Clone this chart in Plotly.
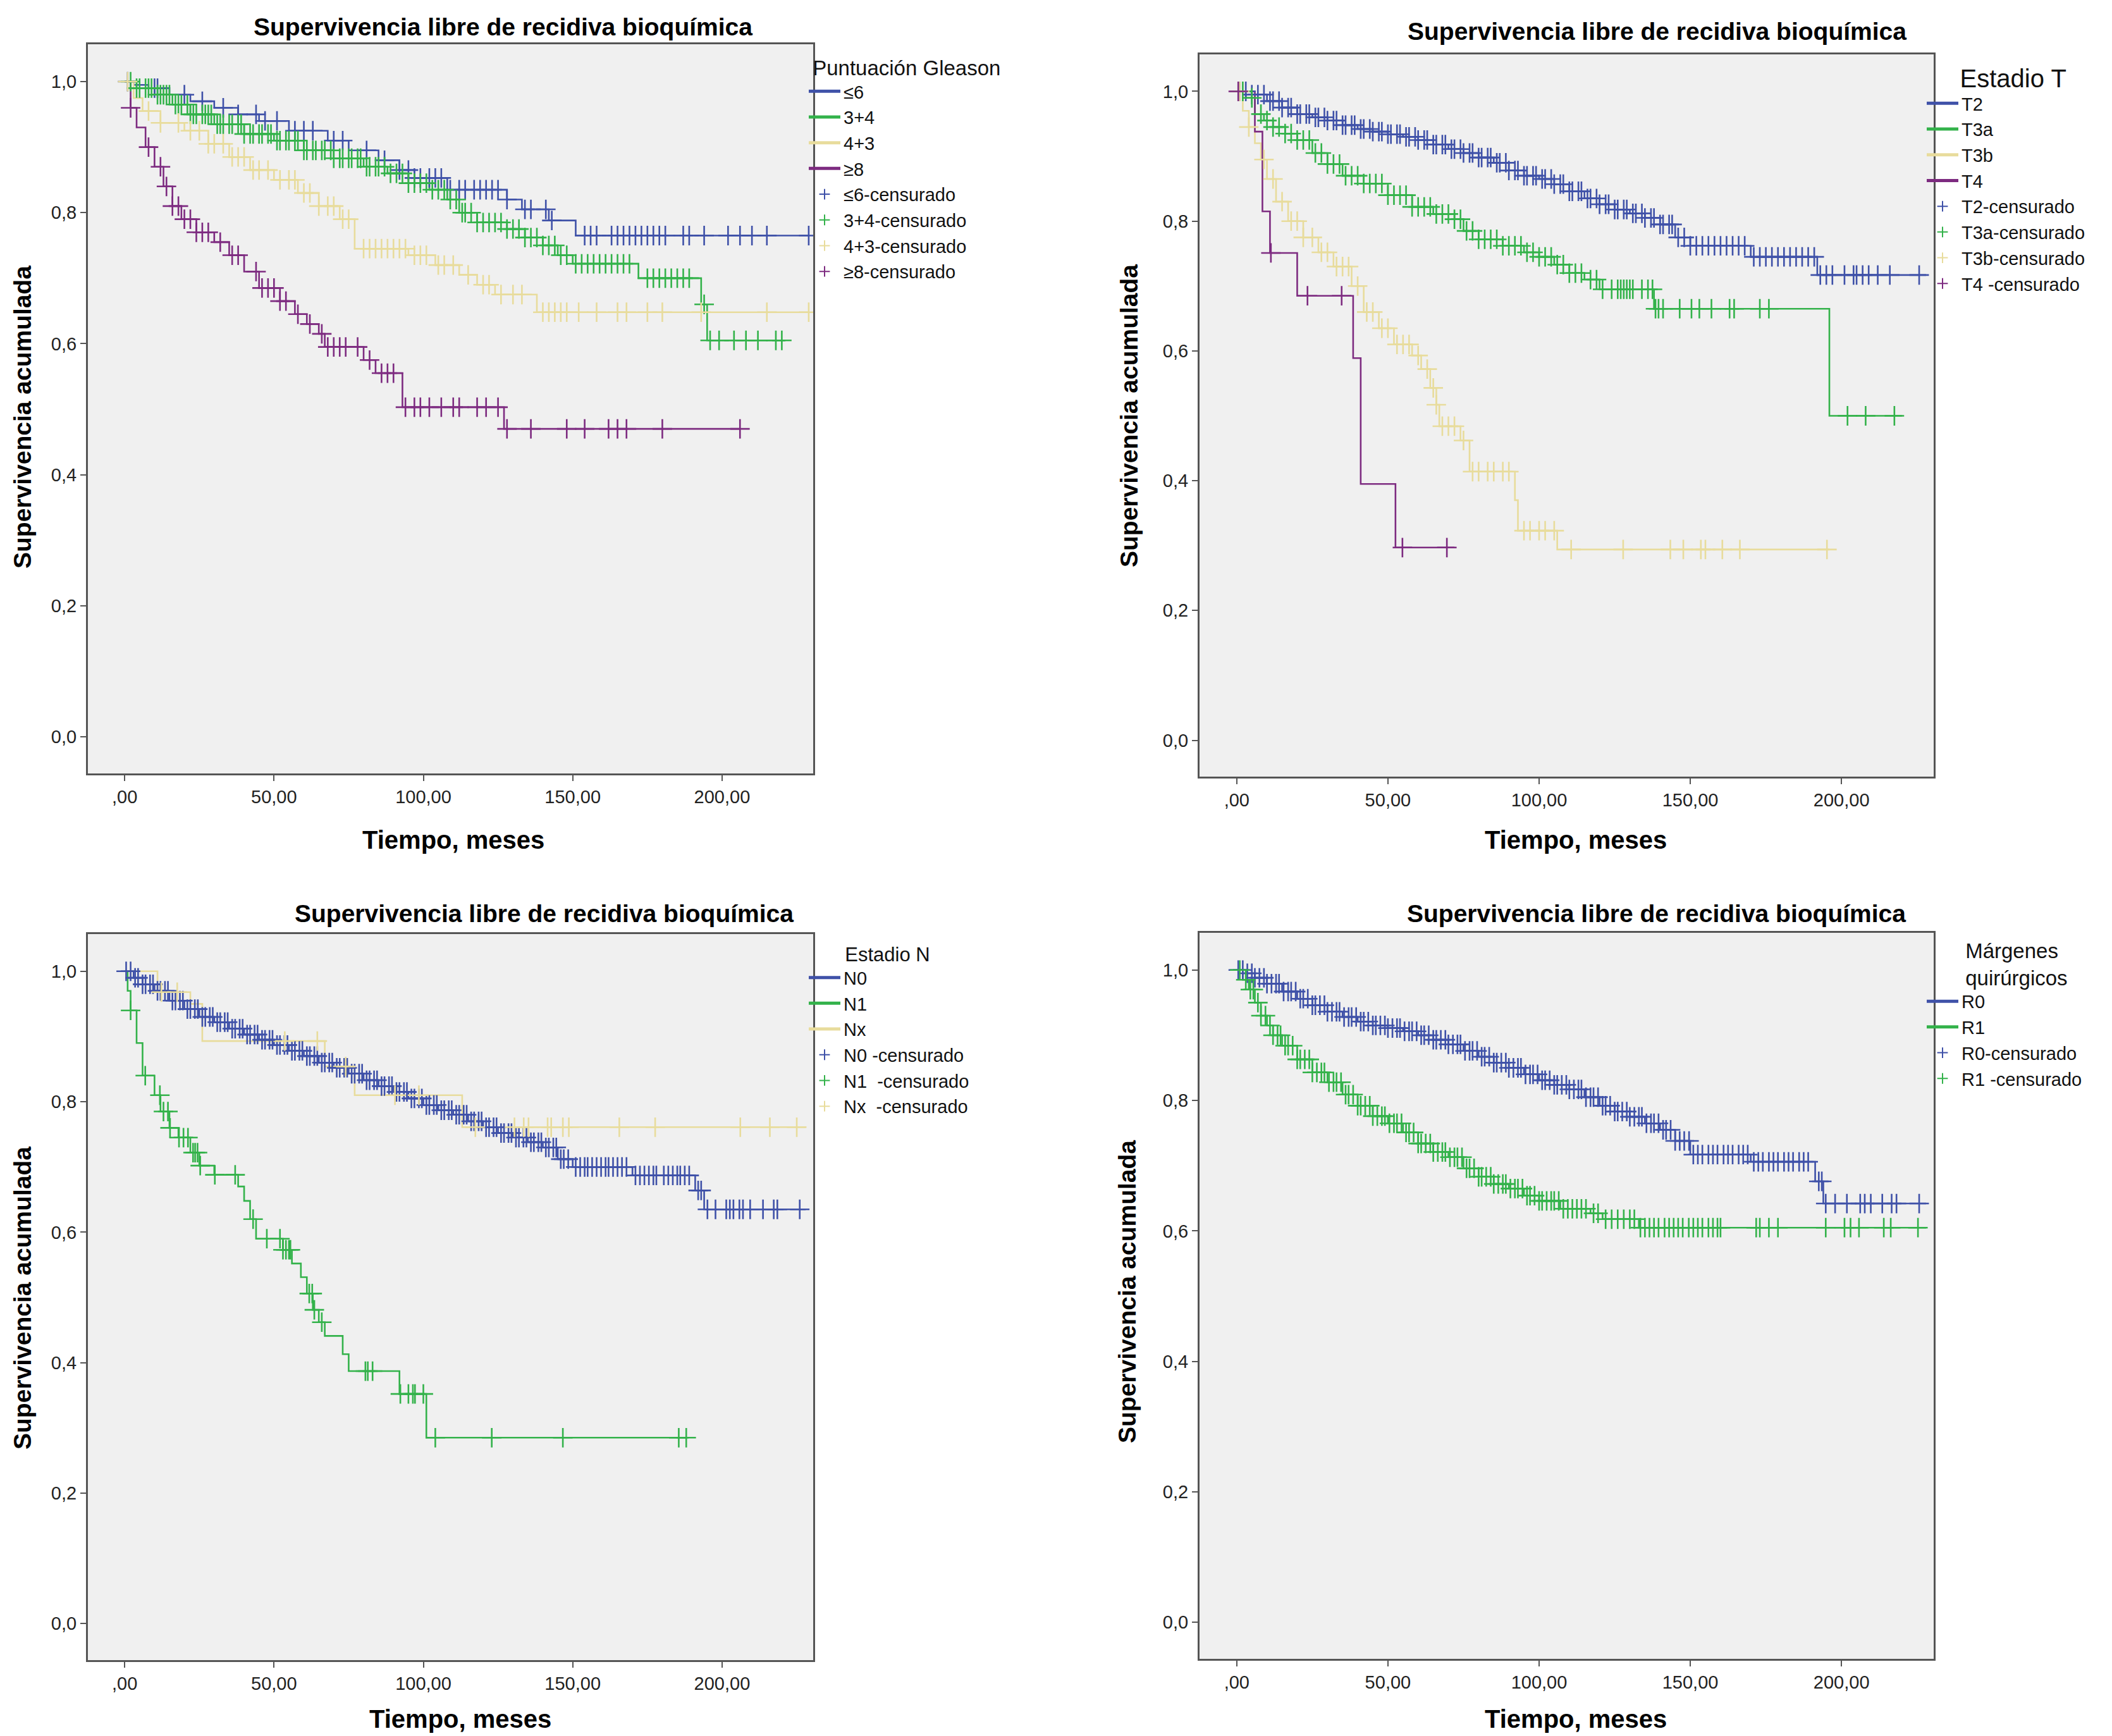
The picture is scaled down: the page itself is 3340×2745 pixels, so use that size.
import plotly.graph_objects as go

W, H = 3340, 2745

# ---------------- Panel A: Puntuación Gleason ----------------
g6_t = [0, 3, 8, 15, 22, 30, 38, 45, 55, 68, 75, 85, 92, 97, 108, 128, 133, 142, 151]
g6_s = [1.0, 0.995, 0.99, 0.98, 0.97, 0.96, 0.95, 0.94, 0.925, 0.91, 0.895, 0.88, 0.865, 0.853, 0.835, 0.82, 0.805, 0.788, 0.765]
g6_end = 229
g6_c = [1, 10, 11, 20, 26, 33, 38, 44, 47, 51, 57, 60, 63, 70, 73, 81, 87, 92, 95, 97, 99, 102, 104, 106, 109, 112,
        114, 117, 119, 121, 123, 125, 128, 134, 136, 141, 143, 154, 156, 158, 163, 165, 167, 169, 171, 173, 175, 177,
        179, 181, 187, 189, 194, 202, 206, 210, 215, 229]

g34_t = [0, 4, 10, 16, 22, 30, 40, 50, 60, 70, 80, 88, 95, 102, 108, 112, 118, 128, 134, 140, 145, 150, 172, 193, 195]
g34_s = [1.0, 0.99, 0.98, 0.965, 0.95, 0.935, 0.92, 0.91, 0.895, 0.883, 0.87, 0.86, 0.845, 0.835, 0.82, 0.8, 0.785,
         0.775, 0.762, 0.75, 0.735, 0.722, 0.70, 0.66, 0.605]
g34_end = 221
g34_c = [2, 4, 5, 7, 8, 9, 11, 12, 13, 14, 15, 17, 18, 19, 21, 22, 23, 24, 26, 27, 28, 29, 31, 32, 33, 35, 36, 38, 39,
         40, 42, 43, 45, 46, 48, 49, 51, 52, 54, 55, 57, 58, 60, 61, 63, 64, 66, 67, 69, 70, 72, 73, 75, 76, 78, 79,
         81, 82, 84, 85, 87, 89, 91, 93, 95, 97, 99, 101, 103, 105, 107, 109, 111, 113, 114, 116, 118, 120, 122, 124,
         126, 128, 130, 132, 134, 136, 138, 140, 142, 144, 146, 148, 151, 153, 155, 157, 159, 161, 163, 165, 167, 169,
         175, 177, 179, 181, 183, 185, 187, 189, 194, 196, 199, 204, 208, 212, 218, 220]

g43_t = [0, 3, 6, 12, 20, 28, 35, 42, 50, 58, 65, 72, 77, 95, 104, 112, 118, 124, 138]
g43_s = [1.0, 0.975, 0.955, 0.937, 0.925, 0.905, 0.885, 0.865, 0.85, 0.83, 0.81, 0.79, 0.745, 0.735, 0.72, 0.705,
         0.69, 0.675, 0.648]
g43_end = 229
g43_c = [1, 8, 12, 18, 22, 25, 28, 30, 33, 36, 38, 40, 43, 45, 48, 52, 55, 57, 60, 62, 65, 68, 70, 73, 75, 80, 82, 84,
         86, 88, 90, 92, 94, 97, 99, 101, 105, 107, 110, 115, 120, 122, 126, 130, 133, 140, 142, 144, 146, 148, 152,
         158, 165, 168, 175, 180, 193, 215, 229]

g8_t = [0, 2, 4, 7, 10, 13, 16, 19, 24, 30, 35, 40, 45, 52, 57, 61, 65, 67, 80, 84, 93, 127]
g8_s = [1.0, 0.96, 0.93, 0.90, 0.87, 0.84, 0.81, 0.79, 0.77, 0.755, 0.735, 0.71, 0.685, 0.665, 0.645, 0.63, 0.615,
        0.595, 0.575, 0.555, 0.503, 0.47]
g8_end = 206
g8_c = [2, 8, 12, 14, 16, 18, 20, 22, 24, 26, 28, 32, 36, 38, 44, 46, 48, 50, 52, 54, 58, 62, 66, 68, 70, 72, 74, 78,
        82, 86, 88, 90, 94, 97, 99, 102, 106, 110, 112, 118, 121, 125, 128, 136, 148, 154, 162, 165, 168, 180, 206]

# ---------------- Panel B: Estadio T ----------------
t2_t = [0, 5, 10, 15, 20, 25, 30, 35, 40, 45, 50, 55, 60, 65, 70, 75, 80, 85, 90, 95, 100, 105, 110, 115, 120, 125,
        130, 135, 140, 145, 150, 170, 192]
t2_s = [1.0, 0.995, 0.985, 0.975, 0.965, 0.96, 0.955, 0.948, 0.942, 0.938, 0.934, 0.93, 0.925, 0.918, 0.911, 0.905,
        0.898, 0.89, 0.878, 0.87, 0.865, 0.857, 0.846, 0.835, 0.826, 0.818, 0.812, 0.805, 0.795, 0.775, 0.762, 0.745,
        0.717]
t2_end = 228
t2_c = [1, 3, 5, 7, 9, 11, 12, 14, 15, 17, 18, 20, 21, 23, 24, 26, 27, 29, 30, 32, 33, 35, 36, 38, 39, 41, 42, 44, 45,
        47, 48, 50, 51, 53, 54, 56, 57, 59, 60, 62, 63, 65, 66, 68, 69, 71, 72, 74, 75, 77, 78, 80, 81, 83, 84, 86, 87,
        89, 90, 92, 93, 95, 96, 98, 99, 101, 102, 104, 105, 107, 108, 110, 111, 113, 114, 116, 117, 119, 120, 122, 123,
        125, 126, 128, 129, 131, 132, 134, 135, 137, 138, 140, 141, 143, 144, 146, 148, 150, 152, 154, 156, 158, 160,
        162, 164, 166, 168, 171, 173, 175, 177, 179, 181, 183, 185, 187, 189, 191, 193, 195, 197, 201, 204, 205, 207,
        209, 212, 216, 225.7]

t3a_t = [0, 3, 6, 9, 12, 16, 20, 25, 30, 35, 42, 50, 58, 65, 72, 75, 80, 88, 95, 100, 105, 110, 115, 120, 138, 196]
t3a_s = [1.0, 0.99, 0.965, 0.955, 0.945, 0.935, 0.925, 0.905, 0.888, 0.87, 0.858, 0.84, 0.822, 0.811, 0.803, 0.785,
         0.772, 0.762, 0.752, 0.745, 0.733, 0.72, 0.71, 0.695, 0.665, 0.50]
t3a_end = 220
t3a_c = [2, 5, 8, 10, 12, 14, 16, 18, 20, 22, 24, 26, 28, 30, 32, 34, 36, 38, 40, 42, 44, 46, 48, 50, 52, 54, 56, 58,
         60, 62, 64, 66, 68, 70, 72, 74, 76, 78, 80, 82, 84, 86, 88, 90, 92, 94, 96, 98, 100, 102, 104, 106, 108, 110,
         112, 114, 117, 119, 121, 124, 126, 127, 128, 129, 130, 131, 134, 136, 137.5, 138.5, 139.5, 141, 146.5, 150.4,
         153, 157, 163, 164.5, 173, 176, 202, 208, 217.5]

t3b_t = [0, 2, 4, 6, 8, 10, 13, 17, 22, 27, 32, 38, 42, 47, 52, 58, 61, 64, 66, 67, 74, 77, 92, 93, 106]
t3b_s = [1.0, 0.97, 0.945, 0.92, 0.895, 0.865, 0.83, 0.80, 0.775, 0.752, 0.73, 0.70, 0.66, 0.635, 0.61, 0.593, 0.572,
         0.543, 0.517, 0.484, 0.462, 0.414, 0.37, 0.323, 0.294]
t3b_end = 196
t3b_c = [1, 4, 9, 12, 15, 18, 20, 22, 25, 28, 30, 33, 35, 37, 40, 43, 45, 48, 50, 53, 55, 57, 60, 63, 65, 66, 68, 70,
         72, 75, 78, 80, 83, 85, 88, 90, 95, 97, 100, 102, 105, 110.6, 127.8, 143.4, 147.7, 153.5, 155, 160.6, 166.4,
         195.2]

t4_t = [0, 6, 8.5, 11, 20, 38.5, 41, 52.5]
t4_s = [1.0, 0.938, 0.815, 0.751, 0.685, 0.589, 0.395, 0.297]
t4_end = 72
t4_c = [0.5, 11.3, 23.4, 34.7, 54.8, 69.5]

# ---------------- Panel C: Estadio N ----------------
n0_t = [0, 3, 6, 10, 15, 20, 25, 30, 35, 40, 45, 50, 55, 60, 65, 70, 75, 80, 85, 90, 95, 100, 105, 110, 115, 120,
        125, 130, 135, 140, 145, 150, 170, 191, 194]
n0_s = [1.0, 0.99, 0.98, 0.97, 0.955, 0.942, 0.93, 0.922, 0.912, 0.903, 0.895, 0.887, 0.878, 0.87, 0.86, 0.852,
        0.843, 0.833, 0.824, 0.815, 0.805, 0.795, 0.787, 0.78, 0.77, 0.761, 0.752, 0.745, 0.738, 0.73, 0.712, 0.70,
        0.687, 0.664, 0.635]
n0_end = 228
n0_c = [0.5, 2, 3.5, 4.5, 6, 7, 8.5, 9.5, 11, 12, 13.5, 14.5, 16, 17, 18.5, 19.5, 21, 22, 23.5, 24.5, 26, 27, 28.5,
        29.5, 31, 32, 33.5, 34.5, 36, 37, 38.5, 39.5, 41, 42, 43.5, 44.5, 46, 47, 48.5, 49.5, 51, 52, 53.5, 54.5, 56,
        57, 58.5, 59.5, 61, 62, 63.5, 64.5, 66, 67, 68.5, 69.5, 71, 72, 73.5, 74.5, 76, 77, 78.5, 79.5, 81, 82, 83.5,
        84.5, 86, 87, 88.5, 89.5, 91, 92, 93.5, 94.5, 96, 97, 98.5, 99.5, 101, 102, 103.5, 104.5, 106, 107, 108.5,
        109.5, 111, 112, 113.5, 114.5, 116, 117, 118.5, 119.5, 121, 122, 123.5, 124.5, 126, 127, 128.5, 129.5, 131,
        132, 133.5, 134.5, 136, 137, 138.5, 139.5, 141, 142, 143.5, 144.5, 146, 147, 148.5, 151, 152.5, 154, 155,
        156.5, 158, 159.5, 161, 162, 163.5, 165, 166.5, 168, 171, 172.5, 174, 175.5, 177, 178, 180.5, 182, 183.5, 185,
        186, 187.5, 189, 192, 193, 195.1, 197.8, 201.4, 202.6, 203.8, 205.8, 207, 209.4, 213.7, 217.3, 218.5, 226]

n1_t = [0, 1, 2, 4, 6, 10, 12, 15, 18, 22, 25, 30, 38, 40, 42, 44, 53, 56, 59, 61, 63, 65, 67, 73, 75, 92, 101]
n1_s = [1.0, 0.97, 0.94, 0.89, 0.84, 0.81, 0.785, 0.76, 0.745, 0.722, 0.702, 0.688, 0.67, 0.648, 0.62, 0.59, 0.573,
        0.552, 0.531, 0.506, 0.481, 0.462, 0.441, 0.413, 0.387, 0.352, 0.285]
n1_end = 188
n1_c = [2, 6.9, 11.8, 13, 14.5, 15.2, 18.2, 19.7, 21.2, 22.9, 23.6, 24.4, 25.3, 30.2, 37, 43, 47.6, 52, 53, 54, 55,
        55.5, 61.8, 62.8, 63.5, 66, 80.6, 81.4, 83, 92.3, 95, 96.5, 97.2, 100, 104, 122.9, 146.7, 185.5, 188]

nx_t = [0, 11, 22, 26, 67, 77, 113]
nx_s = [1.0, 0.968, 0.95, 0.893, 0.854, 0.81, 0.761]
nx_end = 228
nx_c = [12.3, 17.6, 53.6, 64.5, 74, 90.5, 98.5, 117.4, 130.5, 133.6, 135.2, 141.6, 142.8, 146.7, 148.7, 165.6, 177.6,
        206.1, 216, 225]

# ---------------- Panel D: Márgenes quirúrgicos ----------------
r0_t = [0, 3, 6, 10, 15, 20, 25, 30, 35, 40, 45, 50, 55, 60, 65, 70, 75, 80, 85, 90, 95, 100, 105, 110, 115, 120,
        125, 130, 135, 140, 145, 150, 170, 191.3, 194]
r0_s = [1.0, 0.995, 0.988, 0.979, 0.967, 0.956, 0.946, 0.936, 0.928, 0.921, 0.915, 0.911, 0.906, 0.90, 0.893, 0.886,
        0.876, 0.867, 0.858, 0.85, 0.84, 0.831, 0.824, 0.817, 0.805, 0.792, 0.783, 0.775, 0.765, 0.755, 0.738, 0.717,
        0.706, 0.676, 0.642]
r0_end = 228
r0_c = [0.5, 2, 3.5, 5, 6, 7.5, 9, 10, 11.5, 13, 14, 15.5, 17, 18, 19.5, 21, 22, 23.5, 25, 26, 27.5, 29, 30, 31.5, 33,
        34, 35.5, 37, 38, 39.5, 41, 42, 43.5, 45, 46, 47.5, 49, 50, 51.5, 53, 54, 55.5, 57, 58, 59.5, 61, 62, 63.5,
        65, 66, 67.5, 69, 70, 71.5, 73, 74, 75.5, 77, 78, 79.5, 81, 82, 83.5, 85, 86, 87.5, 89, 90, 91.5, 93, 94,
        95.5, 97, 98, 99.5, 101, 102, 103.5, 105, 106, 107.5, 109, 110, 111.5, 113, 114, 115.5, 117, 118, 119.5, 121,
        122, 123.5, 125, 126, 127.5, 129, 130, 131.5, 133, 134, 135.5, 137, 138, 139.5, 141, 142, 143.5, 145, 146.5,
        148, 149.6, 151, 152.5, 154, 156, 157.5, 159, 161, 162.5, 164, 166, 167.5, 169, 171, 172.5, 174, 176, 177.5,
        179, 181, 182.5, 184, 186, 187.5, 189, 192.5, 193.5, 194.8, 197.9, 201.8, 206.2, 207.7, 209.7, 213.5, 216.6,
        218.2, 225.7]

r1_t = [0, 2, 4, 6, 8, 10, 12, 15, 20, 25, 30, 35, 40, 45, 50, 55, 60, 65, 70, 75, 80, 85, 90, 95, 100, 107, 117,
        121, 133]
r1_s = [1.0, 0.985, 0.97, 0.95, 0.93, 0.915, 0.90, 0.884, 0.863, 0.843, 0.828, 0.809, 0.792, 0.776, 0.765, 0.751,
        0.734, 0.721, 0.713, 0.696, 0.683, 0.672, 0.665, 0.654, 0.646, 0.634, 0.627, 0.618, 0.605]
r1_end = 228
r1_c = [1, 3, 4.5, 5.5, 7, 8, 9.5, 11, 12, 13.5, 14.5, 16, 17, 18.5, 20, 21, 22.5, 24, 25, 26.5, 28, 29, 30.5, 32,
        33, 34.5, 36, 37, 38.5, 40, 41, 42.5, 44, 45, 46.5, 48, 49, 50.5, 52, 53, 54.5, 56, 57, 58.5, 60, 61, 62.5,
        64, 65, 66.5, 68, 69, 70.5, 72, 73, 74.5, 76, 77, 78.5, 80, 81, 82.5, 84, 85, 86.5, 88, 89, 90.5, 92, 93,
        94.5, 96, 97, 98.5, 100, 101, 102.5, 104, 105, 106.5, 108, 109.5, 111, 112.5, 114, 115.5, 118, 119.5, 122,
        124, 126, 128, 130, 131.5, 133.5, 135, 136.5, 138, 139.5, 141.5, 143, 144.5, 146, 147.5, 149.5, 151, 152.5,
        154, 156, 157.5, 159, 160, 171.8, 173, 176, 179, 194.8, 201, 203, 205.8, 214, 216.3, 225.3]

# ---------------- Text ----------------
title_text = "Supervivencia libre de recidiva bioquímica"
y_title = "Supervivencia acumulada"
x_title = "Tiempo, meses"
x_tickvals = [0, 50, 100, 150, 200]
x_ticktext = [",00", "50,00", "100,00", "150,00", "200,00"]
y_tickvals = [0, 0.2, 0.4, 0.6, 0.8, 1.0]
y_ticktext = ["0,0", "0,2", "0,4", "0,6", "0,8", "1,0"]

BLUE = "#3f51a8"
GREEN = "#33b24a"
BEIGE = "#e8dc9c"
PURPLE = "#7d2b80"

NB = "\u00a0"

panels = [
    dict(ax=1, legend="legend", series=[
        ("≤6", "≤6-censurado", g6_t, g6_s, g6_end, g6_c, BLUE),
        ("3+4", "3+4-censurado", g34_t, g34_s, g34_end, g34_c, GREEN),
        ("4+3", "4+3-censurado", g43_t, g43_s, g43_end, g43_c, BEIGE),
        ("≥8", "≥8-censurado", g8_t, g8_s, g8_end, g8_c, PURPLE)]),
    dict(ax=2, legend="legend2", series=[
        ("T2", "T2-censurado", t2_t, t2_s, t2_end, t2_c, BLUE),
        ("T3a", "T3a-censurado", t3a_t, t3a_s, t3a_end, t3a_c, GREEN),
        ("T3b", "T3b-censurado", t3b_t, t3b_s, t3b_end, t3b_c, BEIGE),
        ("T4", "T4" + NB + "-censurado", t4_t, t4_s, t4_end, t4_c, PURPLE)]),
    dict(ax=3, legend="legend3", series=[
        ("N0", "N0" + NB + "-censurado", n0_t, n0_s, n0_end, n0_c, BLUE),
        ("N1", "N1" + NB + NB + "-censurado", n1_t, n1_s, n1_end, n1_c, GREEN),
        ("Nx", "Nx" + NB + NB + "-censurado", nx_t, nx_s, nx_end, nx_c, BEIGE)]),
    dict(ax=4, legend="legend4", series=[
        ("R0", "R0-censurado", r0_t, r0_s, r0_end, r0_c, BLUE),
        ("R1", "R1" + NB + "-censurado", r1_t, r1_s, r1_end, r1_c, GREEN)]),
]


def surv_at(ts, ss, t):
    v = ss[0]
    for ti, si in zip(ts, ss):
        if ti <= t:
            v = si
        else:
            break
    return v


fig = go.Figure()
for p in panels:
    suffix = "" if p["ax"] == 1 else str(p["ax"])
    xa, ya = "x" + suffix, "y" + suffix
    for name, cname, ts, ss, tend, cs, col in p["series"]:
        fig.add_trace(go.Scatter(
            x=list(ts) + [tend], y=list(ss) + [ss[-1]], mode="lines", line=dict(shape="hv", color=col, width=2.6),
            name=name, legend=p["legend"], xaxis=xa, yaxis=ya, hoverinfo="skip"))
    for name, cname, ts, ss, tend, cs, col in p["series"]:
        fig.add_trace(go.Scatter(
            x=cs, y=[surv_at(ts, ss, c) for c in cs], mode="markers",
            marker=dict(symbol="cross-thin", size=22, line=dict(color=col, width=2.6), color=col),
            name=cname, legend=p["legend"], xaxis=xa, yaxis=ya, hoverinfo="skip"))

FONT = "Liberation Sans, Arial, sans-serif"

dom = {
    1: ([131 / W, 1278 / W], [1 - 1215 / H, 1 - 62 / H]),
    2: ([1889 / W, 3050 / W], [1 - 1220 / H, 1 - 78 / H]),
    3: ([131 / W, 1278 / W], [1 - 2617 / H, 1 - 1469 / H]),
    4: ([1889 / W, 3050 / W], [1 - 2615 / H, 1 - 1467 / H]),
}

axis_common = dict(showgrid=False, zeroline=False, showline=True, mirror=True, linecolor="#555555", linewidth=3,
                   ticks="outside", ticklen=9, tickwidth=2, tickcolor="#555555",
                   tickfont=dict(family=FONT, size=29, color="#222222"))

layout = dict(width=W, height=H, margin=dict(l=0, r=0, t=0, b=0), paper_bgcolor="white",
              plot_bgcolor="#f0f0f0", showlegend=True, font=dict(family=FONT, color="#111111"))
for i in range(1, 5):
    suffix = "" if i == 1 else str(i)
    xd, yd = dom[i]
    layout["xaxis" + suffix] = dict(axis_common, domain=xd, range=[-12.3, 230.5], tickvals=x_tickvals,
                                     ticktext=x_ticktext, anchor="y" + suffix)
    layout["yaxis" + suffix] = dict(axis_common, domain=yd, range=[-0.056, 1.057], tickvals=y_tickvals,
                                     ticktext=y_ticktext, anchor="x" + suffix)

legend_common = dict(xanchor="left", yanchor="top", bgcolor="rgba(0,0,0,0)", borderwidth=0, itemwidth=50,
                     tracegroupgap=0, traceorder="normal", itemsizing="constant",
                     font=dict(family=FONT, size=29, color="#111111"))
layout["legend"] = dict(legend_common, x=1266 / W, y=1 - 68 / H,
                        title=dict(text=NB + "Puntuación Gleason", side="top", font=dict(family=FONT, size=33)))
layout["legend2"] = dict(legend_common, x=3034 / W, y=1 - 78 / H,
                         title=dict(text=NB * 5 + "Estadio T", side="top", font=dict(family=FONT, size=40)))
layout["legend3"] = dict(legend_common, x=1266 / W, y=1 - 1472 / H,
                         title=dict(text=NB * 7 + "Estadio N", side="top", font=dict(family=FONT, size=31)))
layout["legend4"] = dict(legend_common, x=3034 / W, y=1 - 1464 / H,
                         title=dict(text=NB * 7 + "Márgenes<br>" + NB * 7 + "quirúrgicos", side="top",
                                    font=dict(family=FONT, size=33)))

ann = []
for (cx, cy) in [(787, 34), (2612, 42), (853, 1436), (2611, 1436)]:
    ann.append(dict(text="<b>" + title_text + "</b>", x=cx / W, y=1 - cy / H, xref="paper", yref="paper",
                    showarrow=False, xanchor="center", yanchor="middle", font=dict(family=FONT, size=39, color="#000")))
for (cx, cy) in [(27, 652), (1778, 650), (27, 2045), (1774, 2035)]:
    ann.append(dict(text="<b>" + y_title + "</b>", x=cx / W, y=1 - cy / H, xref="paper", yref="paper",
                    showarrow=False, textangle=-90, xanchor="center", yanchor="middle",
                    font=dict(family=FONT, size=39, color="#000")))
for (cx, cy) in [(709, 1320), (2484, 1320), (720, 2710), (2484, 2710)]:
    ann.append(dict(text="<b>" + x_title + "</b>", x=cx / W, y=1 - cy / H, xref="paper", yref="paper",
                    showarrow=False, xanchor="center", yanchor="middle", font=dict(family=FONT, size=40, color="#000")))
layout["annotations"] = ann

fig.update_layout(**layout)
fig.write_html("out.html")
